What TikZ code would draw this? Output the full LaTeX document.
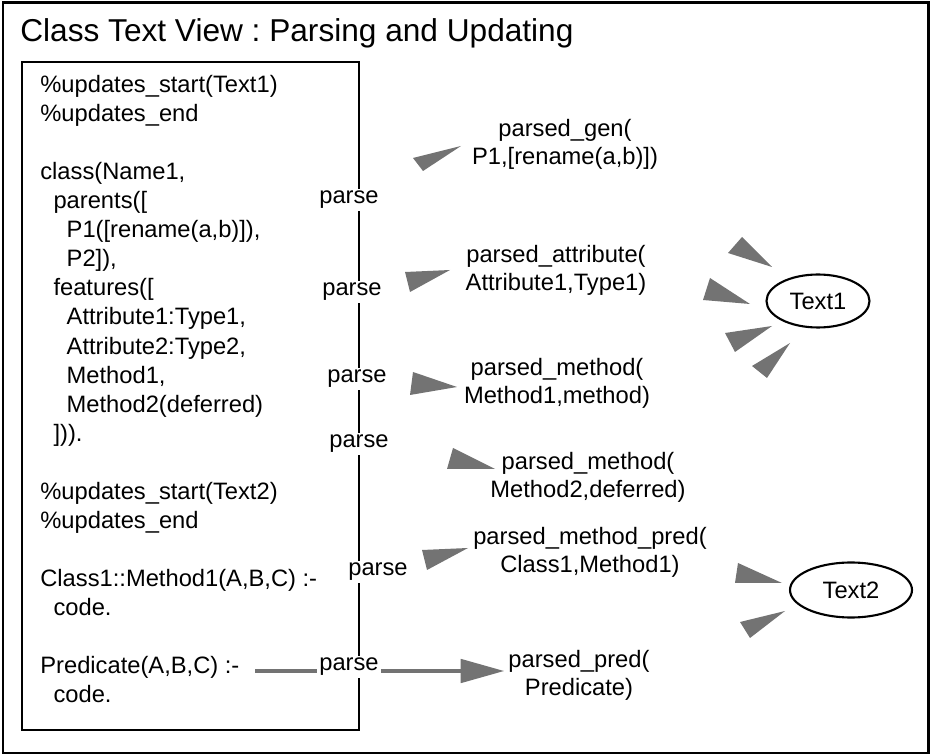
\documentclass[tikz,border=0pt]{standalone}
\usepackage{fontspec}
\setmainfont{Liberation Sans}
\usetikzlibrary{shapes.geometric,arrows.meta}
\definecolor{barbgray}{gray}{0.45}
\newcommand{\barb}[3]{\fill[barbgray] (#1) -- (#2) -- (#3) -- cycle;}
\newcommand{\ind}{\hspace*{7.5pt}}

\begin{document}
\frenchspacing
\begin{tikzpicture}[x = 0.02cm, y = -0.02cm,
  every node/.style = {font = \fontsize{13.5}{16.55}\selectfont, inner sep = 2pt},
  textoval/.style = {draw, ellipse, line width = 1.2pt, inner sep = 0pt},
  parsedlabel/.style = {align = center, font = \fontsize{13.5}{15.8}\selectfont},
  parselabel/.style = {fill = white, inner sep = 1.5pt}]
\useasboundingbox (0,0) rectangle (930,756);
\draw[line width = 1.7pt] (3,3) rectangle (928,753);
\node[anchor = base west, inner sep = 0pt, font = \fontsize{18}{20}\selectfont] (title) at (20,42) {Class Text View : Parsing and Updating};
% source text (base is the last line)
\draw[line width = 1.5pt] (22,62) rectangle (359,730);
\node[anchor = base west, align = left, inner sep = 0pt] (code) at (40,703) {\%updates\_start(Text1)\\
\%updates\_end\\[16.55pt]
class(Name1,\\
\ind parents([\\
\ind\ind P1([rename(a,b)]),\\
\ind\ind P2]),\\
\ind features([\\
\ind\ind Attribute1:Type1,\\
\ind\ind Attribute2:Type2,\\
\ind\ind Method1,\\
\ind\ind Method2(deferred)\\
\ind ])).\\[16.55pt]
\%updates\_start(Text2)\\
\%updates\_end\\[16.55pt]
Class1::Method1(A,B,C) :-\\
\ind code.\\[16.55pt]
Predicate(A,B,C) :-\\
\ind code.};
% parsed facts
\node[parsedlabel] (pgen) at (565,144) {parsed\_gen(\\P1,[rename(a,b)])};
\node[parsedlabel] (pattr) at (556,270) {parsed\_attribute(\\Attribute1,Type1)};
\node[parsedlabel] (pmeth1) at (557,383) {parsed\_method(\\Method1,method)};
\node[parsedlabel] (pmeth2) at (588,477) {parsed\_method(\\Method2,deferred)};
\node[parsedlabel] (pmpred) at (590,552) {parsed\_method\_pred(\\Class1,Method1)};
\node[parsedlabel] (ppred) at (579,675) {parsed\_pred(\\Predicate)};
\node[textoval, minimum width = 2.06cm, minimum height = 1.06cm] (text1) at (818,301) {Text1};
\node[textoval, minimum width = 2.44cm, minimum height = 1.1cm] (text2) at (851,590) {Text2};
% broken arrows
\barb{461,146}{413,158}{423,171}
\barb{450,270}{405,272}{410,292}
\barb{457,387}{413,372}{410,395}
\barb{495,469}{453,448}{447,469}
\barb{468,548}{422,550}{427,570}
\barb{772,267}{742,237}{728,253}
\barb{750,304}{710,278}{703,300}
\barb{772,326}{725,333}{735,352}
\barb{790,343}{752,366}{767,378}
\barb{782,583}{738,563}{735,583}
\barb{785,611}{740,622}{750,638}
\coordinate (predcode) at (255,671);
\draw[barbgray, line width = 0.1cm, -{Triangle[length = 0.88cm, width = 0.46cm]}] (predcode) -- (ppred.west |- predcode);
% parse labels
\node[parselabel] (parseA) at (349,200) {parse};
\node[parselabel] (parseB) at (352,292) {parse};
\node[parselabel] (parseC) at (357,379) {parse};
\node[parselabel] (parseD) at (359,444) {parse};
\node[parselabel] (parseE) at (378,572) {parse};
\node[parselabel] (parseF) at (349,667) {parse};
\end{tikzpicture}
\end{document}
